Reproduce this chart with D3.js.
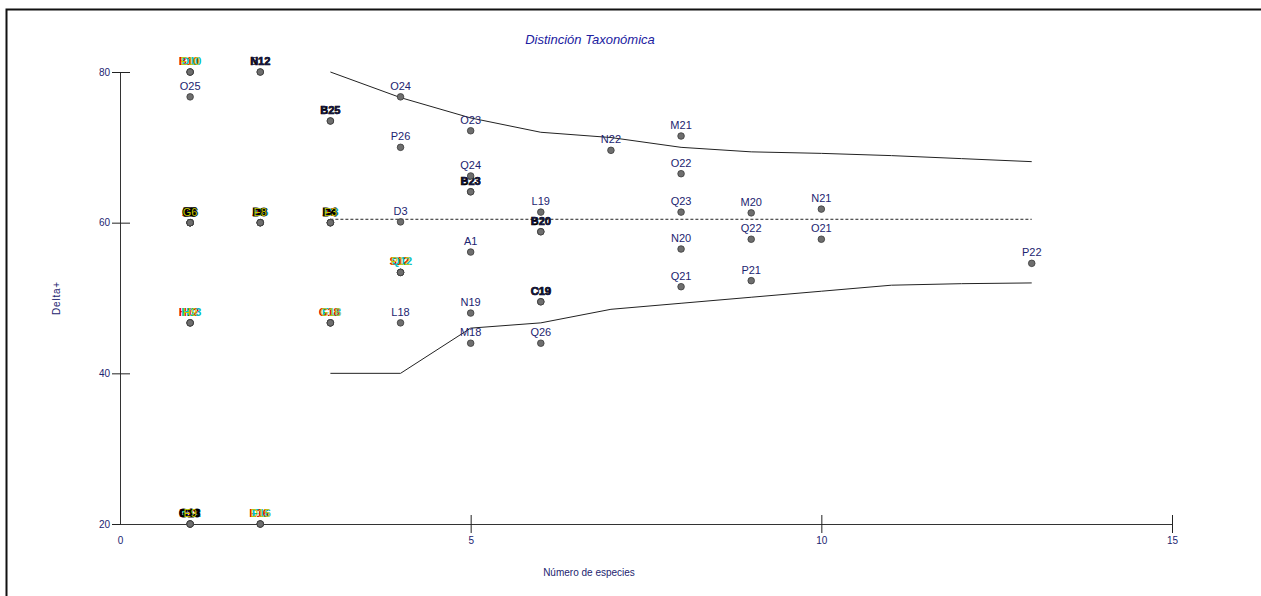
<!DOCTYPE html>
<html>
<head>
<meta charset="utf-8">
<script src="https://cdn.jsdelivr.net/npm/d3@7"></script>
<style>
  body { margin: 0; background: #fff; }
  text { font-family: "Liberation Sans", Arial, sans-serif; }
</style>
</head>
<body>
<svg id="chart" width="1261" height="596"></svg>
<script>
// sample points: number of species vs Delta+
const ptX = [1,1,1, 1, 1,1,1,1,1,1, 1,1,1, 1,1,1,1,
             2,2, 2,2,2,2, 2,2,2,
             3,3, 3,3,3,3, 3,3,3,
             4,4,4, 4,4,4, 4,
             5,5, 5,5, 5,5,5,
             6, 6,6, 6,6, 6,
             7,
             8,8,8,8,8,
             9,9,9,
             10,10,
             13]
const ptY = [80,80,80, 76.7, 60,60,60,60,60,60, 46.7,46.7,46.7, 20,20,20,20,
             80,80, 60,60,60,60, 20,20,20,
             73.5,73.5, 60,60,60,60, 46.7,46.7,46.7,
             76.7,70.0,60.1, 53.4,53.4,53.4, 46.7,
             72.2,66.2, 64.1,64.1, 56.1,48.0,44.0,
             61.4, 58.8,58.8, 49.5,49.5, 44.0,
             69.6,
             71.5,66.5,61.4,56.5,51.5,
             61.3,57.8,52.3,
             61.8,57.8,
             54.6]
const ptLabel = ['B10','D10','E10', 'O25', 'A5','B6','C5','E6','F5','G6', 'H12','H13','H9', 'E13','F12','G13','E9',
                 'N12','B12', 'A8','C6','D8','E8', 'E16','F16','D15',
                 'B25','E25', 'A3','C3','D4','E3', 'G18','F18','G16',
                 'O24','P26','D3', 'S12','Q12','P12', 'L18',
                 'O23','Q24', 'B23','P23', 'A1','N19','M18',
                 'L19', 'B20','P20', 'C19','O19', 'Q26',
                 'N22',
                 'M21','O22','Q23','N20','Q21',
                 'M20','Q22','P21',
                 'N21','O21',
                 'P22']

// funnel limits and mean
const limX = [3,4,5,6,7,8,9,10,11,12,13]
const upper = [80.0,76.6,73.9,72.0,71.3,70.0,69.4,69.2,68.9,68.5,68.1]
const lower = [40.0,40.0,46.0,46.7,48.5,49.3,50.1,50.9,51.7,51.9,52.0]
const meanDelta = 60.45
const meanX = [3,13]

const xTicks = [0,5,10,15]
const yTicks = [20,40,60,80]

const svg = d3.select('#chart')
const navy = '#1c2470'

// frame
svg.append('rect').attr('x',6.5).attr('y',9.5).attr('width',1300).attr('height',700)
  .attr('fill','none').attr('stroke','#111').attr('stroke-width',2)

const x = d3.scaleLinear().domain([0,15]).range([120,1172])
const y = d3.scaleLinear().domain([20,80]).range([524,72])

// y axis
const gy = svg.append('g').attr('transform','translate(120,0)')
  .call(d3.axisLeft(y).tickValues(yTicks).tickSizeOuter(0).tickFormat(d3.format('d')))
gy.select('.domain').attr('stroke','#333')
gy.selectAll('.tick line').attr('x1',-8).attr('x2',10).attr('stroke','#222')
gy.selectAll('.tick text').attr('x',-10).attr('fill',navy).attr('font-size',10)
  .attr('font-family','"Liberation Sans", Arial, sans-serif')

// x axis
const gx = svg.append('g').attr('transform','translate(0,524)')
  .call(d3.axisBottom(x).tickValues(xTicks).tickSizeOuter(0))
gx.select('.domain').attr('stroke','#333')
gx.selectAll('.tick line').attr('y1',-9).attr('y2',9).attr('stroke','#222')
gx.selectAll('.tick text').attr('y',13).attr('fill',navy).attr('font-size',10)
  .attr('font-family','"Liberation Sans", Arial, sans-serif')
gx.selectAll('.tick').filter(d => d === 0).select('line').remove()

// titles
svg.append('text').attr('x',590).attr('y',44).attr('text-anchor','middle')
  .attr('font-size',13).attr('font-style','italic').attr('fill','#2020a0')
  .text('Distinción Taxonómica')
svg.append('text').attr('x',589).attr('y',576).attr('text-anchor','middle')
  .attr('font-size',10).attr('fill',navy).text('Número de especies')
svg.append('text').attr('transform','translate(60,298) rotate(-90)').attr('text-anchor','middle')
  .attr('font-size',10).attr('fill',navy).attr('letter-spacing',0.8).text('Delta+')

// funnel
const line = d3.line().x((d,i) => x(limX[i])).y(d => y(d))
svg.append('path').attr('d',line(upper)).attr('fill','none').attr('stroke','#222').attr('stroke-width',1)
svg.append('path').attr('d',line(lower)).attr('fill','none').attr('stroke','#222').attr('stroke-width',1)
svg.append('line').attr('x1',x(meanX[0])).attr('x2',x(meanX[1]))
  .attr('y1',y(meanDelta)).attr('y2',y(meanDelta))
  .attr('stroke','#222').attr('stroke-dasharray','3,2')

// points
const pts = ptX.map((v,i) => ({x: v, y: ptY[i], label: ptLabel[i]}))
const groupCount = d3.rollup(pts, v => v.length, d => d.x + '_' + d.y)
const seen = {}
pts.forEach(d => {
  const k = d.x + '_' + d.y
  seen[k] = (seen[k] || 0)
  d.n = groupCount.get(k)
  d.idx = seen[k]++
})

// overlapping labels pile up into a dark blob with coloured fringes
function labelStyle(d) {
  if (d.n === 1) return {dx: 0, fill: navy, bold: false, sw: 0}
  if (d.n === 2) return d.idx === 0 ? {dx: 0, fill: '#000', bold: true, sw: 0.6} : {dx: 0.5, fill: '#1a1a50', bold: false, sw: 0}
  if (d.idx === d.n - 1) return {dx: 0, fill: '#c8c800', bold: false, sw: 0}
  if (d.idx === 0) return {dx: -1.2, fill: '#e00000', bold: true, sw: 0}
  if (d.idx === 1) return {dx: 1.2, fill: '#00c0c0', bold: true, sw: 0}
  return {dx: (d.idx % 2) ? 0.5 : -0.5, fill: '#000', bold: true, sw: 1.2}
}
pts.forEach(d => Object.assign(d, labelStyle(d)))

svg.append('g').selectAll('text').data(pts).join('text')
  .attr('x', d => x(d.x) + d.dx)
  .attr('y', d => y(d.y) - 7)
  .attr('text-anchor','middle')
  .attr('font-size',11)
  .attr('fill', d => d.fill)
  .attr('stroke', d => d.sw ? '#000' : 'none')
  .attr('stroke-width', d => d.sw)
  .attr('font-weight', d => d.bold ? 'bold' : 'normal')
  .text(d => d.label)

svg.append('g').selectAll('circle').data(pts).join('circle')
  .attr('cx', d => x(d.x)).attr('cy', d => y(d.y)).attr('r',3.3)
  .attr('fill','#6e6e6e').attr('stroke','#3a3a3a').attr('stroke-width',0.8)
</script>
</body>
</html>
